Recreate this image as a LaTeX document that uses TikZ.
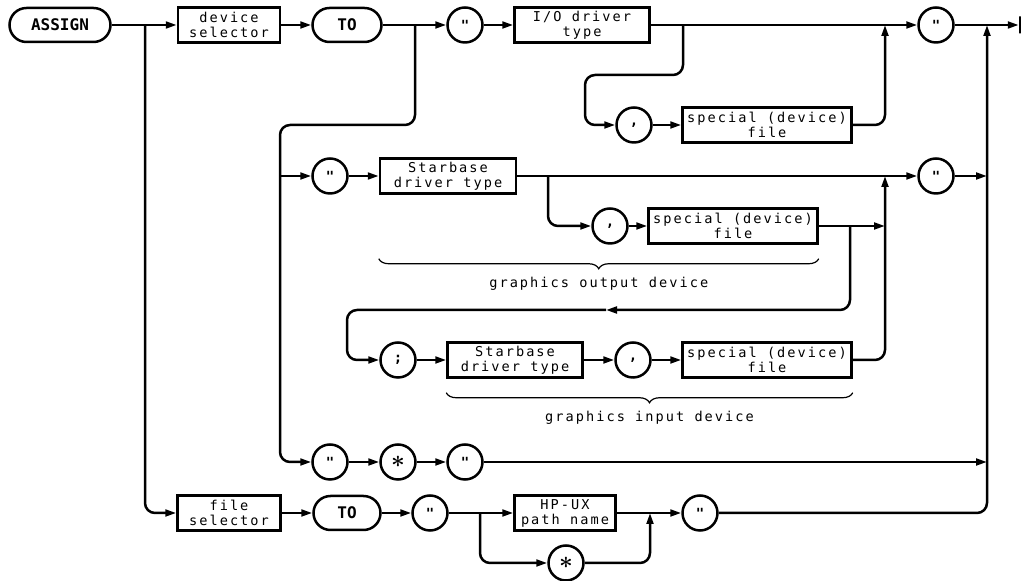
\documentclass[tikz,border=0pt]{standalone}
\usepackage{fontspec}
\usetikzlibrary{arrows.meta,decorations.pathreplacing}
\newfontfamily\plotfont{DejaVu Sans Mono}[LetterSpace=15]
\newfontfamily\keyfont{DejaVu Sans Mono}

\begin{document}
\begin{tikzpicture}[x=0.5pt,y=-0.5pt, line width=1.25pt,
  arr/.style={-{Triangle[length=5.5pt,width=3.4pt]}},
  keyw/.style={draw, rounded corners=8.5pt, minimum height=17pt, inner sep=0pt,
    font=\keyfont\bfseries\fontsize{8}{8}\selectfont},
  elem/.style={draw, minimum height=17.5pt, inner sep=0pt, align=center,
    font=\plotfont\fontsize{6.8}{7.5}\selectfont},
  lit/.style={draw, circle, minimum size=17.5pt, inner sep=0pt,
    font=\keyfont\bfseries\fontsize{7}{7}\selectfont},
  star/.style={lit, font=\fontsize{12}{12}\selectfont\boldmath},
  brc/.style={decorate, decoration={brace, mirror, amplitude=5pt}, line width=0.6pt},
  note/.style={inner sep=0pt, font=\plotfont\fontsize{6.8}{7.5}\selectfont}]
  \useasboundingbox (0,0) rectangle (1023,581);

  % first alternative: device selector
  \node[keyw, minimum width=50.5pt] (assign) at (60,25) {ASSIGN};
  \node[elem, minimum width=51pt] (devsel) at (229,25) {device\\selector};
  \node[keyw, minimum width=34.5pt] (to1) at (347,25) {TO};
  \node[lit] (q1) at (465,25) {"};
  \node[elem, minimum width=67.5pt] (iodrv) at (582,25) {I/O driver\\type};
  \node[lit] (q2) at (936,25) {"};
  \node[draw, minimum height=8.5pt, minimum width=0pt, inner sep=0pt] (stop) at (1020,25) {};
  \node[lit] (c1) at (634,125) {,};
  \node[elem, minimum width=84.5pt] (spf1) at (767,125) {special (device)\\file};

  % starbase drivers
  \node[lit] (q3) at (330,176) {"};
  \node[elem, minimum width=68pt] (sbdrv1) at (448,176) {Starbase\\driver type};
  \node[lit] (c2) at (610,226) {,};
  \node[elem, minimum width=84.5pt] (spf2) at (733,226) {special (device)\\file};
  \node[lit] (q4) at (936,176) {"};
  \node[lit] (semi) at (398,360) {;};
  \node[elem, minimum width=67.5pt] (sbdrv2) at (515,360) {Starbase\\driver type};
  \node[lit] (c3) at (633,360) {,};
  \node[elem, minimum width=84.5pt] (spf3) at (767,360) {special (device)\\file};
  \node[lit] (q5) at (330,462) {"};
  \node[star] (star1) at (398,462) {$\ast$};
  \node[lit] (q6) at (465,462) {"};

  % second alternative: file selector
  \node[elem, minimum width=51.5pt] (filesel) at (229,513) {file\\selector};
  \node[keyw, minimum width=33.5pt] (to2) at (347,513) {TO};
  \node[lit] (q7) at (430,513) {"};
  \node[elem, minimum width=50.5pt] (hpux) at (565,513) {HP-UX\\path name};
  \node[lit] (q8) at (700,513) {"};
  \node[star] (star2) at (566,563) {$\ast$};

  \coordinate (jA) at (145,25);
  \coordinate (jB) at (415,25);
  \coordinate (kB) at (280,125);
  \coordinate (jC) at (683,25);
  \coordinate (kC) at (585,75);
  \coordinate (jD) at (885,25);
  \coordinate (jE) at (987,25);
  \coordinate (jF) at (548,176);
  \coordinate (jG) at (885,176);
  \coordinate (jJ) at (987,176);
  \coordinate (jH) at (850,226);
  \coordinate (jI) at (885,226);
  \coordinate (mH) at (606,310);
  \coordinate (kH) at (347,310);
  \coordinate (jM) at (987,462);
  \coordinate (jK) at (480,513);
  \coordinate (jL) at (650,513);

  \foreach \a/\b in {assign/devsel, devsel/to1, to1/q1, q1/iodrv, iodrv/q2, q2/stop,
      c1/spf1, q3/sbdrv1, sbdrv1/q4, q4/jJ, c2/spf2, spf2/jI, semi/sbdrv2,
      sbdrv2/c3, c3/spf3, q5/star1, star1/q6, q6/jM,
      filesel/to2, to2/q7, q7/hpux, hpux/q8}
    \draw[arr] (\a) -- (\b);
  \draw[arr] (kB |- q3) -- (q3);

  \begin{scope}[rounded corners=5pt]
    \draw[arr] (jA) |- (filesel);
    \draw[arr] (jB) |- (kB) |- (q5);
    \draw[arr] (jC) |- (kC) |- (c1);
    \draw[arr] (spf1) -| (jD);
    \draw[arr] (jF) |- (c2);
    \draw[arr] (jH) |- (mH);
    \draw[arr] (mH) -- (kH) |- (semi);
    \draw[arr] (spf3) -| (jG);
    \draw[arr] (jK) |- (star2);
    \draw[arr] (star2) -| (jL);
    \draw[arr] (q8) -| (jE);
  \end{scope}

  \draw[brc] ([yshift=-7pt]sbdrv1.west |- spf2.south) -- ([yshift=-7pt]spf2.south east)
    node[note, midway, below=9pt] (outdev) {graphics output device};
  \draw[brc] ([yshift=-7pt]sbdrv2.west |- spf3.south) -- ([yshift=-7pt]spf3.south east)
    node[note, midway, below=9pt] (indev) {graphics input device};
\end{tikzpicture}
\end{document}
